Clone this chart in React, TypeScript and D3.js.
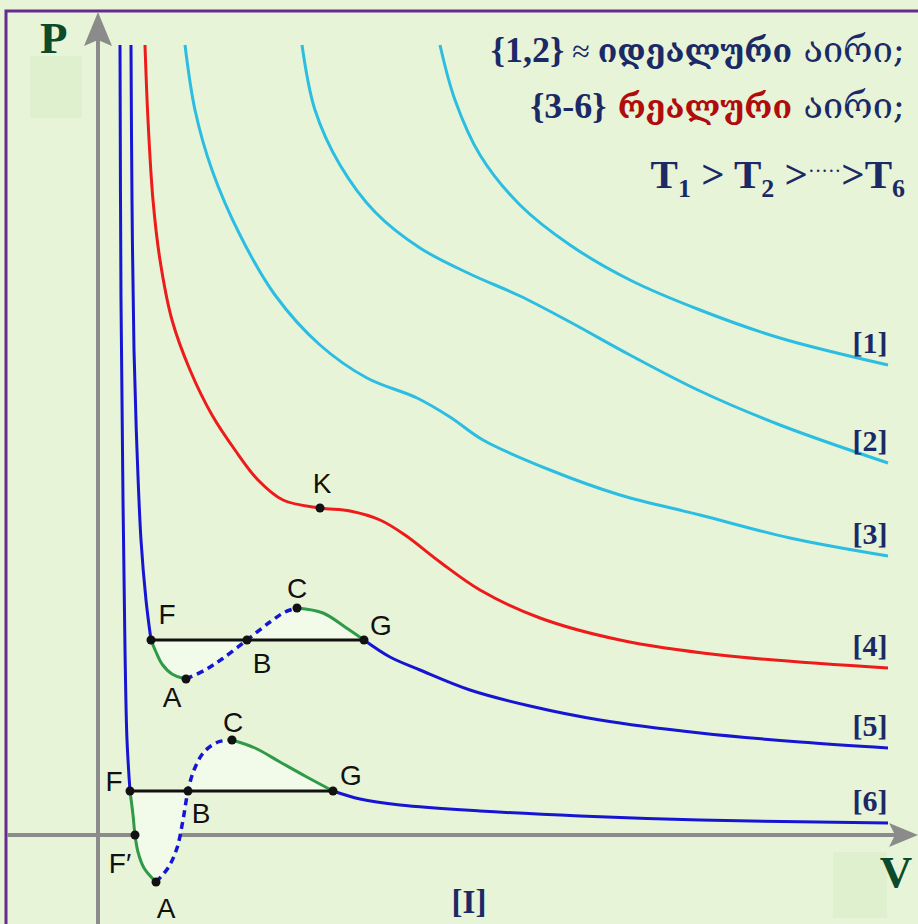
import React from 'react';
import * as d3 from 'd3';

type Pt = [number, number];

const W = 918;
const H = 924;

// Isotherms in (V, P) units. [1],[2] ideal gas; [3]-[6] van der Waals gas.
const iso1: Pt[] = [
  [34.2, 79], [35.7, 73.5], [38.2, 68], [42.2, 63], [47.2, 59], [53.2, 55.5],
  [60.2, 52.5], [68.2, 49.7], [79, 47],
];
const iso2: Pt[] = [
  [20.4, 79], [21.7, 72.5], [24.2, 67], [27.7, 62.3], [32.2, 58.7], [37.2, 56.1],
  [42.2, 53.9], [47.2, 51.3], [53.2, 48], [60.2, 44.4], [68.2, 41], [79, 37.2],
];
const iso3: Pt[] = [
  [8.7, 79], [9.7, 72.5], [11.4, 66.5], [14.2, 60], [17.7, 54], [22.2, 49],
  [26.9, 45.7], [31.9, 43.7], [35.2, 41.8], [38.5, 39.5], [45.2, 36.5],
  [52.2, 34], [60.2, 32], [69.2, 29.7], [79, 27.9],
];
// critical isotherm, K = critical point
const criticalK: Pt = [22.2, 32.7];
const iso4: Pt[] = [
  [4.7, 79], [5.0, 71.5], [5.5, 63.5], [6.2, 57.5], [7.4, 51.5], [9.2, 46.5],
  [11.4, 42], [13.7, 38.5], [16, 35.5], [18.5, 33.5], criticalK, [25.2, 32.4],
  [28.2, 31.5], [30.7, 30], [34.2, 27.3], [38.2, 24.5], [44.2, 21.7],
  [52.2, 19.5], [62.2, 18], [79, 16.7],
];

// isotherm [5], split at F, A, B, C, G
const iso5Liquid: Pt[] = [
  [3.3, 79], [3.4, 63.5], [3.6, 48.5], [3.9, 38.5], [4.3, 29.5], [4.8, 23.5], [5.3, 19.5],
];
const iso5FA: Pt[] = [[5.3, 19.5], [5.8, 18.3], [6.4, 17.1], [7.4, 16.1], [8.8, 15.6]];
const iso5AB: Pt[] = [[8.8, 15.6], [10.7, 16.5], [12.4, 17.6], [14.9, 19.5]];
const iso5BC: Pt[] = [[14.9, 19.5], [17.2, 21.3], [18.7, 22.3], [19.9, 22.7]];
const iso5CG: Pt[] = [[19.9, 22.7], [22.5, 22.2], [24.7, 20.8], [26.6, 19.5]];
const iso5Gas: Pt[] = [
  [26.6, 19.5], [29.2, 17.8], [32.2, 16.5], [37.2, 14.5], [43.2, 12.9],
  [50.2, 11.5], [60.2, 10.2], [70.2, 9.3], [79, 8.7],
];

// isotherm [6], split at F, A, B, C, G; F' where P = 0
const iso6Liquid: Pt[] = [
  [2.2, 79], [2.3, 53.5], [2.5, 33.5], [2.7, 18.5], [2.9, 9.5], [3.2, 4.4],
];
const iso6FA: Pt[] = [[3.2, 4.4], [3.5, 2], [3.7, 0], [4.0, -1.7], [4.6, -3.3], [5.8, -4.7]];
const iso6AB: Pt[] = [[5.8, -4.7], [7.0, -3.3], [7.9, -1.3], [8.5, 1.5], [9.0, 4.4]];
const iso6BC: Pt[] = [[9.0, 4.4], [9.6, 6.5], [10.6, 8.3], [12.0, 9.3], [13.4, 9.5]];
const iso6CG: Pt[] = [[13.4, 9.5], [15.7, 8.7], [18.2, 7.3], [20.7, 5.9], [23.5, 4.4]];
const iso6Gas: Pt[] = [
  [23.5, 4.4], [26.2, 3.6], [30.2, 3.0], [38.2, 2.4], [48.2, 1.9], [60.2, 1.5], [79, 1.2],
];
const iso6FPrime: Pt = [3.7, 0];

const curveNames = ['[1]', '[2]', '[3]', '[4]', '[5]', '[6]'];

const xScale = d3.scaleLinear().domain([0, 80]).range([98, 898]);
const yScale = d3.scaleLinear().domain([0, 80]).range([835, 35]);

const line = d3
  .line<Pt>()
  .x((d) => xScale(d[0]))
  .y((d) => yScale(d[1]))
  .curve(d3.curveCatmullRom.alpha(0.5));

const CYAN = '#2cbde2';
const RED = '#ee1b1b';
const BLUE = '#1616d2';
const GREEN = '#2f9a48';
const NAVY = '#1b2a66';
const DARKRED = '#b00c0c';
const AXIS = '#8b8b8b';

const first = (a: Pt[]) => a[0];
const last = (a: Pt[]) => a[a.length - 1];

function Loop({ liquid, fa, ab, bc, cg, gas, color }: {
  liquid: Pt[]; fa: Pt[]; ab: Pt[]; bc: Pt[]; cg: Pt[]; gas: Pt[]; color: string;
}) {
  const F = first(fa), A = first(ab), B = first(bc), C = first(cg), G = first(gas);
  const lower = line(fa)! + line(ab)!.replace(/^M/, 'L') + 'Z';
  const upper = line(bc)! + line(cg)!.replace(/^M/, 'L') + 'Z';
  return (
    <g>
      <path d={lower} fill="#f2fbe9" stroke="none" />
      <path d={upper} fill="#f2fbe9" stroke="none" />
      <path d={line(liquid)!} fill="none" stroke={color} strokeWidth={3} />
      <path d={line(gas)!} fill="none" stroke={color} strokeWidth={3} />
      <path d={line(fa)!} fill="none" stroke={GREEN} strokeWidth={3} />
      <path d={line(cg)!} fill="none" stroke={GREEN} strokeWidth={3} />
      <path d={line([...ab, ...bc.slice(1)])!} fill="none" stroke={color} strokeWidth={3.5} strokeDasharray="7 5" />
      <line x1={xScale(F[0])} y1={yScale(F[1])} x2={xScale(G[0])} y2={yScale(G[1])} stroke="#111" strokeWidth={3} />
      {[F, A, B, C, G].map((p, i) => (
        <circle key={i} cx={xScale(p[0])} cy={yScale(p[1])} r={4.5} fill="#111" />
      ))}
    </g>
  );
}

function PtLabel({ p, text, dx, dy }: { p: Pt; text: string; dx: number; dy: number }) {
  return (
    <text
      x={xScale(p[0]) + dx}
      y={yScale(p[1]) + dy}
      textAnchor="middle"
      fontFamily="'Liberation Sans', Arial, sans-serif"
      fontSize={28}
      fill="#111"
    >
      {text}
    </text>
  );
}

export default function App() {
  const ends = [iso1, iso2, iso3, iso4, iso5Gas, iso6Gas].map(last);
  const serif = "'Liberation Serif', 'DejaVu Serif', serif";
  const geo = "'DejaVu Serif', 'DejaVu Sans', serif";
  return (
    <svg
      width={W}
      height={H}
      viewBox={`0 0 ${W} ${H}`}
      style={{ position: 'absolute', left: 0, top: 0, display: 'block' }}
    >
      <rect x={0} y={0} width={W} height={H} fill="#e7f4d8" />
      <rect x={30} y={56} width={52} height={62} fill="#d9ecc8" opacity={0.6} />
      <rect x={833} y={852} width={54} height={66} fill="#d9ecc8" opacity={0.6} />
      {/* frame */}
      <path d={`M6,${H} V11 H${W}`} fill="none" stroke="#642c8f" strokeWidth={3} />

      {/* axes */}
      <line x1={xScale(0)} y1={H} x2={xScale(0)} y2={30} stroke={AXIS} strokeWidth={4} />
      <path d={`M${xScale(0)},12 L${xScale(0) + 14},46 L${xScale(0)},40 L${xScale(0) - 14},46 Z`} fill={AXIS} />
      <line x1={7} y1={yScale(0)} x2={900} y2={yScale(0)} stroke={AXIS} strokeWidth={4} />
      <path d={`M918,${yScale(0)} L889,${yScale(0) - 12} L895,${yScale(0)} L889,${yScale(0) + 12} Z`} fill={AXIS} />

      <text x={40} y={53} fontFamily={serif} fontWeight="bold" fontSize={45} fill="#0b4a2a">P</text>
      <text x={896} y={887} textAnchor="middle" fontFamily={serif} fontWeight="bold" fontSize={45} fill="#0b4a2a">V</text>

      {/* isotherms */}
      <path d={line(iso1)!} fill="none" stroke={CYAN} strokeWidth={3} />
      <path d={line(iso2)!} fill="none" stroke={CYAN} strokeWidth={3} />
      <path d={line(iso3)!} fill="none" stroke={CYAN} strokeWidth={3} />
      <path d={line(iso4)!} fill="none" stroke={RED} strokeWidth={3} />
      <Loop liquid={iso5Liquid} fa={iso5FA} ab={iso5AB} bc={iso5BC} cg={iso5CG} gas={iso5Gas} color={BLUE} />
      <Loop liquid={iso6Liquid} fa={iso6FA} ab={iso6AB} bc={iso6BC} cg={iso6CG} gas={iso6Gas} color={BLUE} />
      <circle cx={xScale(criticalK[0])} cy={yScale(criticalK[1])} r={4.5} fill="#111" />
      <circle cx={xScale(iso6FPrime[0])} cy={yScale(iso6FPrime[1])} r={4.5} fill="#111" />

      {/* point labels */}
      <PtLabel p={criticalK} text="K" dx={2} dy={-15} />
      <PtLabel p={first(iso5FA)} text="F" dx={16} dy={-16} />
      <PtLabel p={first(iso5AB)} text="A" dx={-14} dy={28} />
      <PtLabel p={first(iso5BC)} text="B" dx={15} dy={33} />
      <PtLabel p={first(iso5CG)} text="C" dx={0} dy={-10} />
      <PtLabel p={first(iso5Gas)} text="G" dx={17} dy={-5} />
      <PtLabel p={first(iso6FA)} text="F" dx={-16} dy={0} />
      <PtLabel p={iso6FPrime} text="F′" dx={-15} dy={38} />
      <PtLabel p={first(iso6AB)} text="A" dx={10} dy={36} />
      <PtLabel p={first(iso6BC)} text="B" dx={13} dy={32} />
      <PtLabel p={first(iso6CG)} text="C" dx={1} dy={-8} />
      <PtLabel p={first(iso6Gas)} text="G" dx={18} dy={-6} />

      {/* isotherm numbers */}
      {curveNames.map((name, i) => (
        <text
          key={name}
          x={870}
          y={yScale(ends[i][1]) - 12}
          textAnchor="middle"
          fontFamily={serif}
          fontWeight="bold"
          fontSize={30}
          fill={NAVY}
        >
          {name}
        </text>
      ))}

      {/* legend */}
      <text x={905} y={62} textAnchor="end" fill={NAVY} fontSize={36} fontFamily={serif}>
        <tspan fontWeight="bold">{'{1,2}'}</tspan>
        <tspan fontSize={32}>{' ≈ '}</tspan>
        <tspan fontFamily={geo} fontWeight="bold" fontSize={32}>იდეალური</tspan>
        <tspan fontFamily={geo} fontSize={36}>{' აირი;'}</tspan>
      </text>
      <text x={905} y={118} textAnchor="end" fill={NAVY} fontSize={36} fontFamily={serif}>
        <tspan fontWeight="bold">{'{3-6}'}</tspan>
        <tspan fontFamily={geo} fontWeight="bold" fontSize={32} fill={DARKRED}>{' რეალური'}</tspan>
        <tspan fontFamily={geo} fontSize={36}>{' აირი;'}</tspan>
      </text>
      <text x={905} y={188} textAnchor="end" fill={NAVY} fontSize={41} fontFamily={serif} fontWeight="bold">
        <tspan>T</tspan>
        <tspan fontSize={26} dy={9}>1</tspan>
        <tspan dy={-9}>{' > T'}</tspan>
        <tspan fontSize={26} dy={9}>2</tspan>
        <tspan dy={-9}>{' >'}</tspan>
        <tspan fontSize={20} dy={-10} fontWeight="normal">·····</tspan>
        <tspan dy={10}>{'>T'}</tspan>
        <tspan fontSize={26} dy={9}>6</tspan>
      </text>

      <text x={469} y={913} textAnchor="middle" fontFamily={serif} fontWeight="bold" fontSize={33} fill={NAVY}>[I]</text>
    </svg>
  );
}
